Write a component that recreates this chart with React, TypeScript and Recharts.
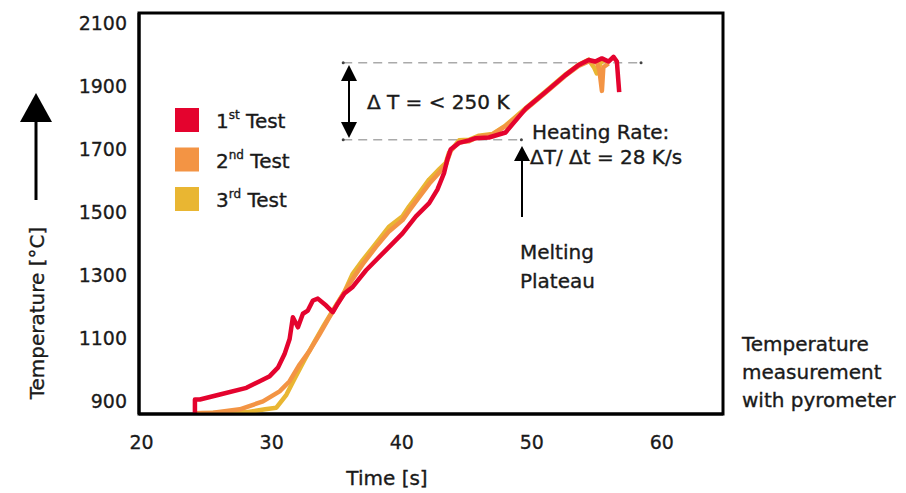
import React from 'react';
import {
  LineChart,
  Line,
  XAxis,
  YAxis,
  ReferenceArea,
  ReferenceLine,
  ReferenceDot,
} from 'recharts';

// time [s] / temperature [°C]
const test1 = [
  { t: 24.1, T: 862 }, { t: 24.1, T: 906 }, { t: 24.48, T: 906 }, { t: 26.02, T: 922 },
  { t: 28.06, T: 943 }, { t: 29.08, T: 964 }, { t: 29.85, T: 980 }, { t: 30.48, T: 1007 },
  { t: 30.99, T: 1050 }, { t: 31.38, T: 1098 }, { t: 31.63, T: 1167 }, { t: 32.02, T: 1135 },
  { t: 32.4, T: 1178 }, { t: 32.78, T: 1188 }, { t: 33.17, T: 1220 }, { t: 33.55, T: 1226 },
  { t: 34.19, T: 1204 }, { t: 34.7, T: 1183 }, { t: 35.08, T: 1210 }, { t: 35.59, T: 1242 },
  { t: 36.23, T: 1263 }, { t: 37.26, T: 1316 }, { t: 38.79, T: 1380 }, { t: 40.06, T: 1433 },
  { t: 41.09, T: 1487 }, { t: 42.11, T: 1529 }, { t: 42.74, T: 1572 }, { t: 43.26, T: 1625 },
  { t: 43.51, T: 1668 }, { t: 43.77, T: 1700 }, { t: 44.41, T: 1720 }, { t: 45.17, T: 1728 },
  { t: 45.68, T: 1735 }, { t: 46.7, T: 1737 }, { t: 47.98, T: 1753 }, { t: 49.52, T: 1828 },
  { t: 51.05, T: 1881 }, { t: 52.58, T: 1935 }, { t: 53.6, T: 1967 }, { t: 54.37, T: 1983 },
  { t: 54.88, T: 1978 }, { t: 55.39, T: 1988 }, { t: 55.9, T: 1978 }, { t: 56.28, T: 1993 },
  { t: 56.54, T: 1978 }, { t: 56.72, T: 1881 },
];

const test2 = [
  { t: 23.97, T: 862 }, { t: 25.5, T: 864 }, { t: 27.55, T: 875 }, { t: 29.33, T: 900 },
  { t: 30.61, T: 932 }, { t: 31.38, T: 964 }, { t: 32.15, T: 1017 }, { t: 32.91, T: 1060 },
  { t: 33.68, T: 1113 }, { t: 34.44, T: 1167 }, { t: 35.21, T: 1220 }, { t: 35.98, T: 1273 },
  { t: 37.0, T: 1335 }, { t: 38.02, T: 1390 }, { t: 39.04, T: 1440 }, { t: 40.06, T: 1475 },
  { t: 40.57, T: 1505 }, { t: 41.34, T: 1548 }, { t: 42.11, T: 1590 }, { t: 42.87, T: 1625 },
  { t: 43.39, T: 1650 }, { t: 43.77, T: 1695 }, { t: 44.41, T: 1722 }, { t: 45.17, T: 1725 },
  { t: 45.94, T: 1740 }, { t: 46.96, T: 1746 }, { t: 47.98, T: 1773 }, { t: 49.52, T: 1826 },
  { t: 51.05, T: 1879 }, { t: 52.58, T: 1933 }, { t: 53.6, T: 1964 }, { t: 54.37, T: 1978 },
  { t: 55.0, T: 1975 }, { t: 55.2, T: 1950 }, { t: 55.39, T: 1885 }, { t: 55.5, T: 1960 },
  { t: 55.9, T: 1972 },
];

const test3 = [
  { t: 24.5, T: 862 }, { t: 26.5, T: 864 }, { t: 28.06, T: 866 }, { t: 29.5, T: 875 },
  { t: 30.36, T: 880 }, { t: 31.13, T: 921 }, { t: 31.8, T: 975 }, { t: 32.5, T: 1030 },
  { t: 33.3, T: 1090 }, { t: 34.0, T: 1140 }, { t: 34.8, T: 1195 }, { t: 35.6, T: 1248 },
  { t: 36.23, T: 1305 }, { t: 37.0, T: 1348 }, { t: 38.02, T: 1401 }, { t: 39.04, T: 1455 },
  { t: 40.06, T: 1487 }, { t: 40.57, T: 1519 }, { t: 41.34, T: 1561 }, { t: 42.11, T: 1604 },
  { t: 42.87, T: 1636 }, { t: 43.39, T: 1657 }, { t: 43.64, T: 1690 }, { t: 44.41, T: 1728 },
  { t: 45.17, T: 1730 }, { t: 45.94, T: 1743 }, { t: 46.96, T: 1748 }, { t: 47.98, T: 1775 },
  { t: 49.52, T: 1830 }, { t: 51.05, T: 1883 }, { t: 52.58, T: 1937 }, { t: 53.6, T: 1968 },
  { t: 54.37, T: 1984 }, { t: 54.8, T: 1958 }, { t: 55.0, T: 1940 }, { t: 55.3, T: 1975 },
  { t: 55.7, T: 1985 },
];

const xTicks = [20, 30, 40, 50, 60];
const yTicks = [900, 1100, 1300, 1500, 1700, 1900, 2100];
const legendItems = [
  { num: '1', sup: 'st', color: '#e4032e' },
  { num: '2', sup: 'nd', color: '#f39444' },
  { num: '3', sup: 'rd', color: '#e9b632' },
];

const X_DOMAIN = [19.8, 64.7];
const Y_DOMAIN = [860, 2132];
const FONT = '"DejaVu Sans", sans-serif';
const INK = '#1a1a1a';

// a hairline outline gives the text a little more weight, like the original
const heavy = { stroke: INK, strokeWidth: 0.35 };

const Overlay = () => (
  <svg
    width={906}
    height={493}
    style={{ position: 'absolute', left: 0, top: 0, pointerEvents: 'none' }}
    fontFamily={FONT}
    fill={INK}
  >
    {/* legend */}
    {legendItems.map((it, i) => {
      const cy = 120 + i * 39.5;
      return (
        <g key={it.num}>
          <rect x={175} y={cy - 12} width={24} height={24} fill={it.color} />
          <text x={216} y={cy + 8} fontSize={20} {...heavy}>
            {it.num}
            <tspan fontSize={12} dy={-9}>{it.sup}</tspan>
            <tspan dy={9}> Test</tspan>
          </text>
        </g>
      );
    })}

    {/* y axis title with arrow */}
    <text
      transform="translate(44,313) rotate(-90)"
      textAnchor="middle"
      fontSize={20}
      {...heavy}
    >
      Temperature [°C]
    </text>
    <line x1={36} y1={200} x2={36} y2={118} stroke="#000" strokeWidth={3} />
    <polygon points="36,93 20,122 52,122" fill="#000" />

    {/* x axis title */}
    <text x={387} y={485} textAnchor="middle" fontSize={20} {...heavy}>Time [s]</text>

    {/* delta T arrow */}
    <line x1={349} y1={78} x2={349} y2={125} stroke="#000" strokeWidth={2} />
    <polygon points="349,65 341,81 357,81" fill="#000" />
    <polygon points="349,138 341,122 357,122" fill="#000" />
    <text x={367} y={109} fontSize={20} {...heavy}>Δ T = &lt; 250 K</text>

    <text x={532} y={139} fontSize={20} {...heavy}>Heating Rate:</text>
    <text x={530} y={164} fontSize={20} {...heavy}>ΔT/ Δt = 28 K/s</text>

    {/* melting plateau arrow */}
    <line x1={522} y1={158} x2={522} y2={217} stroke="#000" strokeWidth={2} />
    <polygon points="522,146 514,161 530,161" fill="#000" />
    <text x={520} y={259} fontSize={20} {...heavy}>Melting</text>
    <text x={520} y={288} fontSize={20} {...heavy}>Plateau</text>

    {/* side note */}
    <text x={742} y={351} fontSize={20} {...heavy}>Temperature</text>
    <text x={742} y={379} fontSize={20} {...heavy}>measurement</text>
    <text x={742} y={407} fontSize={20} {...heavy}>with pyrometer</text>
  </svg>
);

export default function App() {
  const tickStyle = { fontSize: 19, fill: INK, fontFamily: FONT, stroke: INK, strokeWidth: 0.3 };
  return (
    <div style={{ position: 'absolute', left: 0, top: 0, width: 906, height: 493, background: '#fff' }}>
      <LineChart width={906} height={493} margin={{ top: 13, right: 183, bottom: 0, left: 0 }}>
        <XAxis
          type="number"
          dataKey="t"
          domain={X_DOMAIN}
          ticks={xTicks}
          allowDataOverflow
          tickLine={false}
          tickSize={0}
          tickMargin={22}
          height={79}
          axisLine={{ stroke: '#000', strokeWidth: 3 }}
          tick={tickStyle}
        />
        <YAxis
          type="number"
          dataKey="T"
          domain={Y_DOMAIN}
          ticks={yTicks}
          allowDataOverflow
          tickLine={false}
          tickSize={0}
          tickMargin={12}
          width={139}
          axisLine={{ stroke: '#000', strokeWidth: 3 }}
          tick={tickStyle}
        />
        <ReferenceArea
          x1={X_DOMAIN[0]}
          x2={X_DOMAIN[1]}
          y1={Y_DOMAIN[0]}
          y2={Y_DOMAIN[1]}
          fill="none"
          stroke="#000"
          strokeWidth={3}
        />
        <ReferenceLine
          segment={[{ x: 35.5, y: 1974 }, { x: 58.4, y: 1974 }]}
          stroke="#aaa"
          strokeWidth={1.5}
          strokeDasharray="9 6"
        />
        <ReferenceLine
          segment={[{ x: 35.5, y: 1730 }, { x: 49.2, y: 1730 }]}
          stroke="#aaa"
          strokeWidth={1.5}
          strokeDasharray="9 6"
        />
        <ReferenceDot x={35.5} y={1974} r={1.5} fill="#444" stroke="none" />
        <ReferenceDot x={58.4} y={1974} r={1.5} fill="#444" stroke="none" />
        <ReferenceDot x={35.5} y={1730} r={1.5} fill="#444" stroke="none" />
        <ReferenceDot x={49.2} y={1730} r={1.5} fill="#444" stroke="none" />
        <Line data={test3} dataKey="T" type="linear" stroke="#e9b632" strokeWidth={4.5}
          strokeLinejoin="round" dot={false} isAnimationActive={false} />
        <Line data={test2} dataKey="T" type="linear" stroke="#f39444" strokeWidth={4.5}
          strokeLinejoin="round" dot={false} isAnimationActive={false} />
        <Line data={test1} dataKey="T" type="linear" stroke="#e4032e" strokeWidth={4.5}
          strokeLinejoin="round" dot={false} isAnimationActive={false} />
      </LineChart>
      <Overlay />
    </div>
  );
}
